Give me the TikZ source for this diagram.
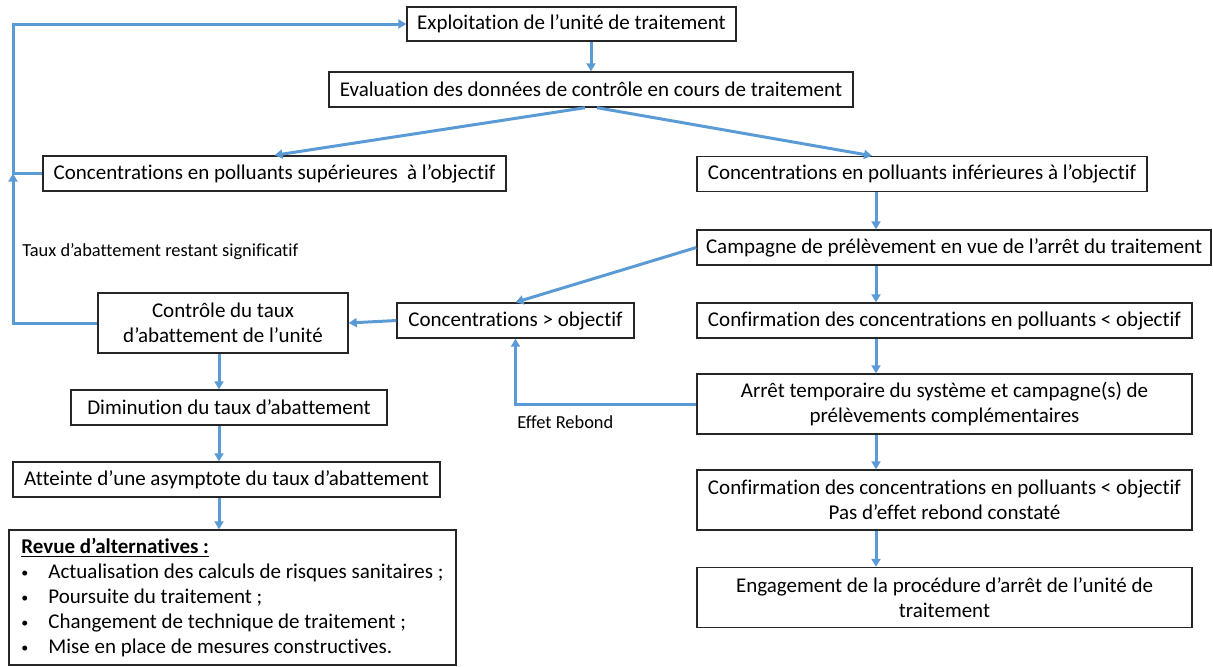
\documentclass[tikz,border=0pt]{standalone}
\usepackage{fontspec}
\setmainfont{Carlito}[Ligatures=NoCommon]
\usetikzlibrary{arrows.meta}
\definecolor{lineblue}{HTML}{5B9BD5}
\newcommand{\bulletitem}{\makebox[13.5pt][l]{\fontsize{7}{7}\selectfont\raisebox{0.6pt}{\textbullet}}}

\begin{document}
\begin{tikzpicture}[x=0.5pt,y=-0.5pt,
		box/.style={draw=black!85, line width=0.7pt, inner sep=0pt, align=center,
			font=\fontsize{10.5}{12.5}\selectfont},
		conn/.style={draw=lineblue, line width=1.5pt, -{Triangle[length=4pt,width=4.5pt]}},
		lbl/.style={anchor=west, inner sep=0pt, font=\fontsize{9.2}{11}\selectfont}]
		\useasboundingbox (0,0) rectangle (1213,666);
		\coordinate (lspine) at (219,0);
		\coordinate (rspine) at (876,0);
		\coordinate (loop) at (13,173.5);
		% boxes
		\node[box, minimum width=164.5pt, minimum height=17pt] (expl) at (571.5,24) {Exploitation de l’unité de traitement};
		\node[box, minimum width=262pt, minimum height=17.5pt] (eval) at (591,89.5) {Evaluation des données de contrôle en cours de traitement};
		\node[box, minimum width=231.5pt, minimum height=17.5pt] (sup) at (274.5,173.5) {Concentrations en polluants supérieures\ \ à l’objectif};
		\node[box, minimum width=225pt, minimum height=17.5pt] (inf) at (922,174) {Concentrations en polluants inférieures à l’objectif};
		\node[box, minimum width=257pt, minimum height=17.5pt] (camp) at (954,247.5) {Campagne de prélèvement en vue de l’arrêt du traitement};
		\node[box, minimum width=247.5pt, minimum height=17.5pt] (conf1) at (944.5,320.5) {Confirmation des concentrations en polluants < objectif};
		\node[box, minimum width=247.5pt, minimum height=30pt] (arret) at (944.5,404) {Arrêt temporaire du système et campagne(s) de\\prélèvements complémentaires};
		\node[box, minimum width=247.5pt, minimum height=30pt] (conf2) at (944.5,500) {Confirmation des concentrations en polluants < objectif\\Pas d’effet rebond constaté};
		\node[box, minimum width=247.5pt, minimum height=30pt] (eng) at (944.5,597.5) {Engagement de la procédure d’arrêt de l’unité de\\traitement};
		\node[box, minimum width=118.5pt, minimum height=17.5pt] (obj) at (515.5,320.5) {Concentrations > objectif};
		\node[box, minimum width=125pt, minimum height=30pt] (ctrl) at (223,323) {Contrôle du taux\\d’abattement de l’unité};
		\node[box, minimum width=158pt, minimum height=17.5pt] (dimi) at (229,407.5) {Diminution du taux d’abattement};
		\node[box, minimum width=213.5pt, minimum height=17.5pt] (att) at (226.5,479.5) {Atteinte d’une asymptote du taux d’abattement};
		\node[box, minimum width=223.5pt, minimum height=67.5pt, align=left, inner xsep=5.5pt] (revue) at (232.5,597.5)
		{\underline{\textbf{Revue d’alternatives :}}\\
			\bulletitem Actualisation des calculs de risques sanitaires ;\\
			\bulletitem Poursuite du traitement ;\\
			\bulletitem Changement de technique de traitement ;\\
			\bulletitem Mise en place de mesures constructives.};
		% labels
		\node[lbl] (tauxlbl) at (22,252) {Taux d’abattement restant significatif};
		\node[lbl] (rebondlbl) at (517,422) {Effet Rebond};
		% connectors
		\draw[conn] (sup.west) -- (loop) |- (expl.west);
		\draw[conn] (ctrl.west) -| (loop);
		\draw[conn] (expl.south -| eval.north) -- (eval.north);
		\draw[conn] ([xshift=-3pt]eval.south) -- (sup.north);
		\draw[conn] ([xshift=3pt]eval.south) -- ([xshift=-25pt]inf.north);
		\draw[conn] (inf.south -| rspine) -- (camp.north -| rspine);
		\draw[conn] (camp.south -| rspine) -- (conf1.north -| rspine);
		\draw[conn] (conf1.south -| rspine) -- (arret.north -| rspine);
		\draw[conn] (arret.south -| rspine) -- (conf2.north -| rspine);
		\draw[conn] (conf2.south -| rspine) -- (eng.north -| rspine);
		\draw[conn] (camp.west) -- (obj.north);
		\draw[conn] (arret.west) -| (obj.south);
		\draw[conn] (obj.west) -- (ctrl.east);
		\draw[conn] (ctrl.south -| lspine) -- (dimi.north -| lspine);
		\draw[conn] (dimi.south -| lspine) -- (att.north -| lspine);
		\draw[conn] (att.south -| lspine) -- (revue.north -| lspine);
	\end{tikzpicture}
\end{document}
